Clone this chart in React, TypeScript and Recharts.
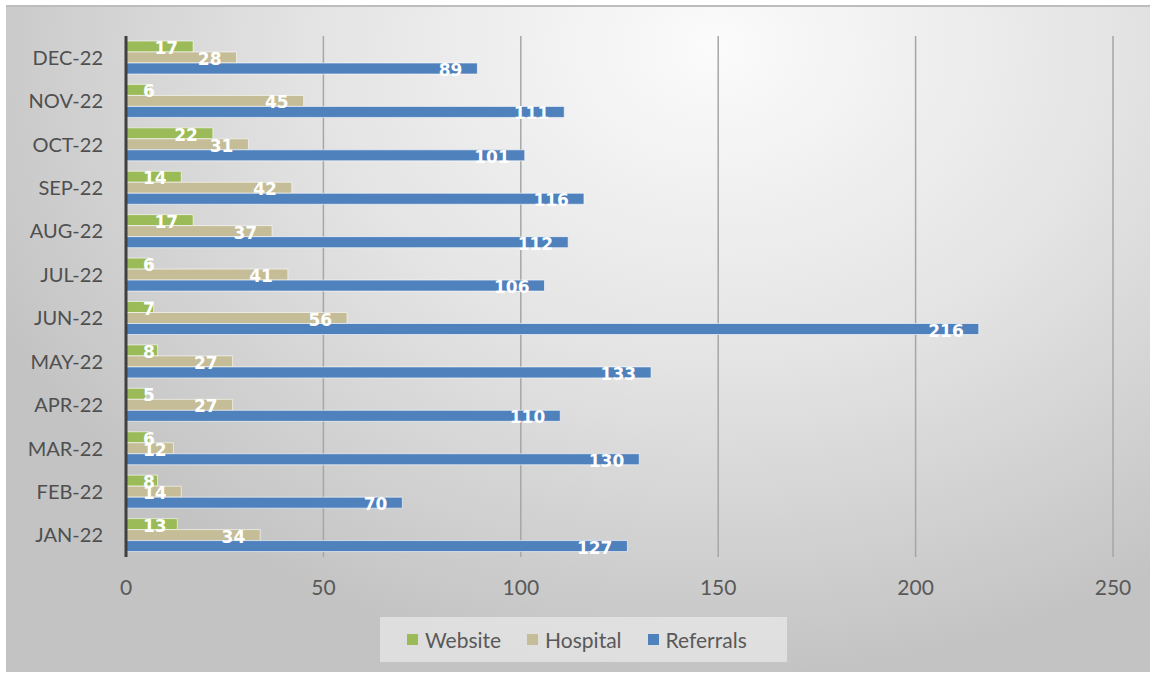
import React from 'react'
import {
  BarChart,
  Bar,
  XAxis,
  YAxis,
  CartesianGrid,
  Legend,
  LabelList,
} from 'recharts'

const MONTHS = ['JAN-22', 'FEB-22', 'MAR-22', 'APR-22', 'MAY-22', 'JUN-22', 'JUL-22', 'AUG-22', 'SEP-22', 'OCT-22', 'NOV-22', 'DEC-22']
const WEBSITE = [13, 8, 6, 5, 8, 7, 6, 17, 14, 22, 6, 17]
const HOSPITAL = [34, 14, 12, 27, 27, 56, 41, 37, 42, 31, 45, 28]
const REFERRALS = [127, 70, 130, 110, 133, 216, 106, 112, 116, 101, 111, 89]
const X_TICKS = [0, 50, 100, 150, 200, 250]

const SERIES = [
  { key: 'website', name: 'Website', color: '#9BBB59' },
  { key: 'hospital', name: 'Hospital', color: '#C4BD97' },
  { key: 'referrals', name: 'Referrals', color: '#4F81BD' },
]

const data = MONTHS.map((m, i) => ({
  month: m,
  website: WEBSITE[i],
  hospital: HOSPITAL[i],
  referrals: REFERRALS[i],
}))

const TICK_FONT = 'Lato, "Open Sans", sans-serif'

// white value label near the bar end, pushed right when the bar is short
const renderLabel = (props: any) => {
  const { x, y, width, height, value } = props
  const txt = String(value)
  const textW = txt.length * 11.8
  const right = Math.max(x + width - 15, x + 17 + textW)
  return (
    <text
      x={right}
      y={y + height / 2 + 1.5}
      textAnchor="end"
      dominantBaseline="central"
      fill="#ffffff"
      fontFamily='"DejaVu Sans", sans-serif'
      fontWeight="bold"
      fontSize={17}
    >
      {txt}
    </text>
  )
}

const renderLegend = () => (
  <div
    style={{
      display: 'flex',
      alignItems: 'center',
      height: 45,
      background: 'rgba(240,240,240,0.6)',
      fontFamily: TICK_FONT,
      fontSize: 21,
      color: '#595959',
      paddingLeft: 27,
      boxSizing: 'border-box',
    }}
  >
    {SERIES.map((s) => (
      <div key={s.key} style={{ display: 'flex', alignItems: 'center', marginRight: 26 }}>
        <span style={{ width: 11, height: 11, background: s.color, marginRight: 7, display: 'inline-block' }} />
        <span>{s.name}</span>
      </div>
    ))}
  </div>
)

export default function App() {
  return (
    <div style={{ position: 'absolute', left: 0, top: 0, width: 1154, height: 675, background: '#ffffff' }}>
      <div
        style={{
          position: 'absolute',
          left: 6,
          top: 5,
          width: 1144,
          height: 667,
          borderTop: '2px solid #bdbdbd',
          boxSizing: 'border-box',
          background: 'radial-gradient(ellipse 70% 95% at 62% 6%, #fbfbfb 0%, #e4e4e4 50%, #c3c3c3 100%)',
        }}
      />
      <div style={{ position: 'absolute', left: 0, top: 0 }}>
        <BarChart
          width={1154}
          height={675}
          data={data}
          layout="vertical"
          margin={{ top: 36, right: 41, bottom: 88, left: 0 }}
          barCategoryGap="19%"
          barGap={0}
          barSize={11}
        >
          <CartesianGrid horizontal={false} stroke="#a6a6a6" strokeWidth={1.5} />
          <XAxis
            type="number"
            domain={[0, 250]}
            ticks={X_TICKS}
            axisLine={false}
            tickLine={false}
            tickSize={0}
            tickMargin={23}
            height={30}
            tick={{ fill: '#595959', fontSize: 21, fontFamily: TICK_FONT }}
          />
          <YAxis
            type="category"
            dataKey="month"
            reversed
            width={126}
            tickLine={false}
            tickSize={0}
            tickMargin={23}
            axisLine={{ stroke: '#404040', strokeWidth: 3 }}
            tick={{ fill: '#4f4f4f', fontSize: 20, fontFamily: TICK_FONT }}
          />
          <Legend
            layout="horizontal"
            verticalAlign="middle"
            align="center"
            content={renderLegend}
            wrapperStyle={{ left: 380, top: 617, width: 407, height: 45 }}
          />
          {SERIES.map((s) => (
            <Bar
              key={s.key}
              dataKey={s.key}
              name={s.name}
              fill={s.color}
              stroke="#ffffff"
              strokeOpacity={0.6}
              strokeWidth={1}
              isAnimationActive={false}
            >
              <LabelList dataKey={s.key} content={renderLabel} />
            </Bar>
          ))}
        </BarChart>
      </div>
    </div>
  )
}
